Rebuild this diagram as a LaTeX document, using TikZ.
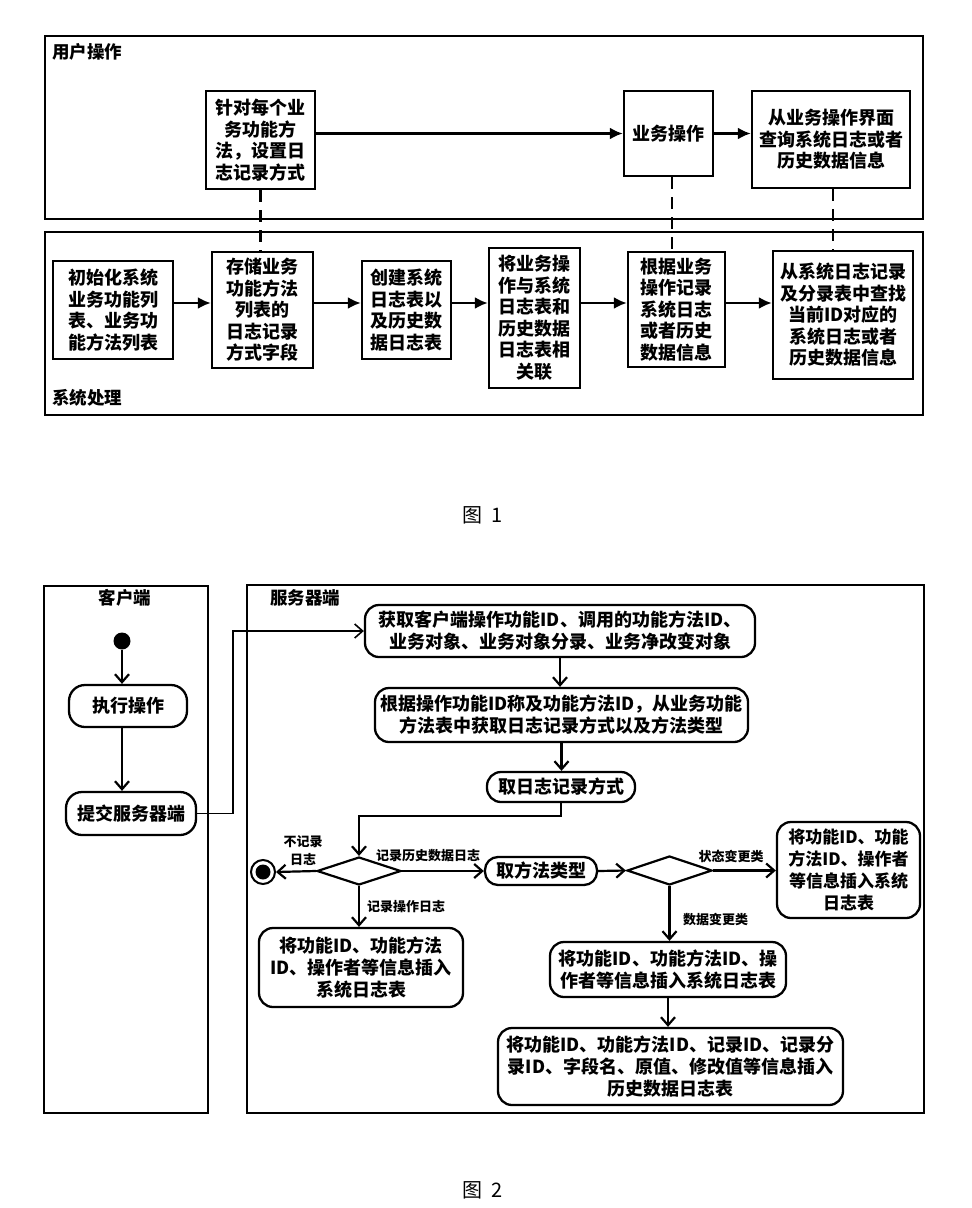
\documentclass[tikz,border=0pt]{standalone}
\usepackage{fontspec}
\setmainfont{Noto Sans CJK SC}
\usetikzlibrary{arrows.meta,shapes.geometric,calc}
\begin{document}
\begin{tikzpicture}[x=1pt,y=-1pt,
  frame/.style={draw,line width=2.2pt,inner sep=0pt},
  box1/.style={draw,line width=2.4pt,align=center,inner sep=0pt,font=\bfseries\fontsize{18}{21.5}\selectfont},
  rbox/.style={draw,line width=2.3pt,rounded corners=14pt,align=center,inner sep=0pt,font=\bfseries\fontsize{18}{22}\selectfont},
  arrA/.style={line width=2.4pt,-{Latex[length=13pt,width=12pt]}},
  arrB/.style={line width=2.2pt,-{Straight Barb[length=8pt,width=14pt]}},
  dsh/.style={line width=2.4pt,dash pattern=on 12pt off 8pt},
  hdr/.style={font=\bfseries\fontsize{17.5}{20}\selectfont,inner sep=0pt},
  lbl/.style={font=\bfseries\fontsize{13}{18}\selectfont,inner sep=0pt,align=center},
  dia/.style={draw,diamond,line width=2.2pt,inner sep=0pt},
  figcaption/.style={font=\fontsize{20}{24}\selectfont,inner sep=0pt},
]
\useasboundingbox (0,0) rectangle (972,1208);

% ---------------- Figure 1 ----------------
\node[frame,minimum width=878,minimum height=183] (F1) at (484,127.5) {};
\node[frame,minimum width=878,minimum height=183] (F2) at (484,323.5) {};
\node[hdr,anchor=west] (h1) at (52,52) {用户操作};
\node[hdr,anchor=west] (h2) at (52,398) {系统处理};

\node[box1,minimum width=109,minimum height=98] (A) at (260.5,140) {针对每个业\\务功能方\\法，设置日\\志记录方式};
\node[box1,minimum width=89,minimum height=85] (B) at (668.5,133.5) {业务操作};
\node[box1,minimum width=158,minimum height=97] (C) at (831,139.5) {从业务操作界面\\查询系统日志或者\\历史数据信息};

\node[box1,minimum width=120,minimum height=98] (L1) at (113,310) {初始化系统\\业务功能列\\表、业务功\\能方法列表};
\node[box1,minimum width=101,minimum height=116] (L2) at (262.5,310) {存储业务\\功能方法\\列表的\\日志记录\\方式字段};
\node[box1,minimum width=89,minimum height=98] (L3) at (406.5,310) {创建系统\\日志表以\\及历史数\\据日志表};
\node[box1,minimum width=91,minimum height=140] (L4) at (534.5,318) {将业务操\\作与系统\\日志表和\\历史数据\\日志表相\\关联};
\node[box1,minimum width=97,minimum height=115] (L5) at (676.5,309.5) {根据业务\\操作记录\\系统日志\\或者历史\\数据信息};
\node[box1,minimum width=140,minimum height=128] (L6) at (843,315) {从系统日志记录\\及分录表中查找\\当前ID对应的\\系统日志或者\\历史数据信息};

\draw[arrA] (A.east |- B.west) -- (B.west);
\draw[arrA] (B.east) -- (B.east -| C.west);
\draw[arrA] (L1.east |- 0,303) -- (L2.west |- 0,303);
\draw[arrA] (L2.east |- 0,303) -- (L3.west |- 0,303);
\draw[arrA] (L3.east |- 0,303) -- (L4.west |- 0,303);
\draw[arrA] (L4.east |- 0,303) -- (L5.west |- 0,303);
\draw[arrA] (L5.east |- 0,303) -- (L6.west |- 0,303);

\draw[dsh] (A.south) -- (A.south |- L2.north);
\draw[dsh] ([xshift=3.5pt]B.south) -- ([xshift=3.5pt]B.south |- L5.north);
\draw[dsh] ([xshift=2pt]C.south) -- ([xshift=2pt]C.south |- L6.north);

\node[figcaption] (cap1) at (483,515) {图\ \ 1};

% ---------------- Figure 2 ----------------
\node[frame,minimum width=164,minimum height=527] (CF) at (126,849.5) {};
\node[frame,minimum width=677,minimum height=528] (SF) at (585.5,849) {};
\node[hdr] (ch) at (125,598) {客户端};
\node[hdr,anchor=west] (sh) at (270,598) {服务器端};

\node[circle,fill,inner sep=0pt,minimum size=17] (st) at (122,641) {};
\node[rbox,minimum width=118,minimum height=42,rounded corners=16pt] (X1) at (128,706) {执行操作};
\node[rbox,minimum width=130,minimum height=43,rounded corners=16pt] (X2) at (131,813.5) {提交服务器端};
\draw[arrB] (st) -- (st |- X1.north);
\draw[arrB] (X1.south -| st) -- (X2.north -| st);

\node[rbox,minimum width=390,minimum height=52] (S1) at (560,631) {获取客户端操作功能ID、调用的功能方法ID、\\业务对象、业务对象分录、业务净改变对象};
\node[rbox,minimum width=373,minimum height=54] (S2) at (561.5,715) {根据操作功能ID称及功能方法ID，从业务功能\\方法表中获取日志记录方式以及方法类型};
\node[rbox,minimum width=148,minimum height=30] (S3) at (561,787) {取日志记录方式};

\draw[line width=1.6pt,-{Straight Barb[length=8pt,width=14pt]}] (X2.east) -- ++(36,0) |- (S1.west);
\draw[arrB] (S1.south) -- (S1.south |- S2.north);
\draw[arrB] (S2.south) -- (S2.south |- S3.north);

\node[dia,minimum width=84,minimum height=28] (D1) at (359,871) {};
\draw[arrB] (S3.south) -- ++(0,13) -| (D1.north);

\node[circle,draw,line width=2pt,minimum size=24,inner sep=0pt] (E0) at (263,872) {};
\fill (E0.center) circle (7.5);
\draw[arrB] (D1.west) -- (E0.east);
\node[lbl] (l1) at (303,851) {不记录\\日志};

\node[rbox,minimum width=112,minimum height=28,rounded corners=13pt] (T) at (541,871) {取方法类型};
\draw[arrB] (D1.east) -- (T.west);
\node[lbl] (l2) at (428,856) {记录历史数据日志};

\node[dia,minimum width=85,minimum height=29] (D2) at (669.5,870.5) {};
\draw[arrB] (T.east) -- (D2.west);

\node[rbox,minimum width=143,minimum height=96,font=\bfseries\fontsize{17}{22}\selectfont] (E2) at (848.5,870) {将功能ID、功能\\方法ID、操作者\\等信息插入系统\\日志表};
\draw[arrB] (D2.east) -- (D2.east -| E2.west);
\node[lbl] (l3) at (731,856) {状态变更类};

\node[rbox,minimum width=236,minimum height=55] (E3) at (668,969.5) {将功能ID、功能方法ID、操\\作者等信息插入系统日志表};
\draw[arrB] (D2.south) -- (D2.south |- E3.north);
\node[lbl,anchor=west] (l4) at (683,920) {数据变更类};

\node[rbox,minimum width=345,minimum height=77] (E4) at (670.5,1066.5) {将功能ID、功能方法ID、记录ID、记录分\\录ID、字段名、原值、修改值等信息插入\\历史数据日志表};
\draw[arrB] (E3.south) -- (E3.south |- E4.north);

\node[rbox,minimum width=204,minimum height=79] (E1) at (361,967.5) {将功能ID、功能方法\\ID、操作者等信息插入\\系统日志表};
\draw[arrB] (D1.south) -- (D1.south |- E1.north);
\node[lbl,anchor=west] (l5) at (367,907) {记录操作日志};

\node[figcaption] (cap2) at (483,1190) {图\ \ 2};
\end{tikzpicture}
\end{document}
